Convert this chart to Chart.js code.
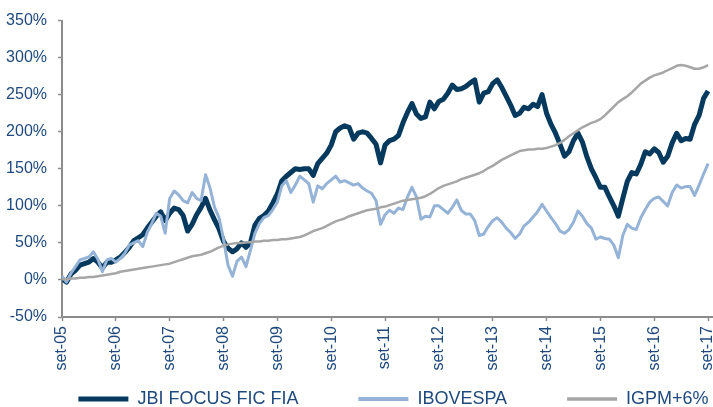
<!DOCTYPE html>
<html>
<head>
<meta charset="utf-8">
<script src="https://cdn.jsdelivr.net/npm/chart.js@4.4.1/dist/chart.umd.min.js"></script>
<style>
    body { margin: 0; background: #ffffff; }
    #wrap { width: 713px; height: 407px; overflow: hidden; }
</style>
</head>
<body>
<div id="wrap"><canvas id="perfChart" width="713" height="407"></canvas></div>
<script>
// x tick labels, one per September (index = months since set-05)
const yearTicks = ['set-05', 'set-06', 'set-07', 'set-08', 'set-09', 'set-10', 'set-11',
    'set-12', 'set-13', 'set-14', 'set-15', 'set-16', 'set-17'];

const seriesNames = ['JBI FOCUS FIC FIA', 'IBOVESPA', 'IGPM+6%'];

// accumulated return (%), monthly from set-05
const jbiFocus = [
    2, -3, 8, 13, 20, 22, 24, 29, 24, 16, 24, 24,
    27, 31, 37, 44, 53, 57, 61, 70, 78, 86, 92, 80,
    90, 97, 95, 87, 66, 75, 88, 98, 110, 94, 81, 69,
    52, 43, 38, 42, 50, 44, 50, 74, 83, 87, 93, 104,
    116, 134, 140, 145, 150, 149, 150, 150, 141, 157, 164, 171,
    182, 200, 205, 208, 206, 190, 198, 200, 198, 191, 183, 158,
    182, 188, 190, 195, 212, 226, 238, 224, 218, 220, 240, 231,
    241, 244, 252, 263, 257, 258, 261, 266, 270, 240, 252, 254,
    265, 270, 260, 248, 236, 222, 225, 233, 231, 237, 234, 250,
    225, 210, 198, 183, 167, 173, 188, 198, 186, 166, 150, 138,
    125, 125, 112, 100, 86, 110, 133, 145, 143, 156, 173, 170,
    177, 172, 159, 167, 185, 198, 188, 191, 190, 210, 222, 245,
    255
];

const ibovespa = [
    5, -3, 9, 18, 27, 29, 31, 38, 28, 11, 27, 29,
    24, 29, 36, 47, 50, 53, 45, 64, 76, 90, 86, 63,
    110, 120, 115, 107, 104, 118, 110, 107, 142, 124, 98, 84,
    55, 20, 5, 25, 31, 18, 40, 63, 76, 84, 87, 95,
    105, 127, 134, 118, 128, 140, 135, 130, 105, 127, 123, 130,
    135, 140, 132, 134, 131, 128, 130, 124, 120, 117, 107, 75,
    88, 94, 90, 97, 95, 112, 125, 112, 82, 86, 85, 100,
    100, 95, 90, 98, 108, 94, 89, 89, 80, 60, 62, 72,
    80, 84, 78, 70, 64, 56, 62, 73, 78, 85, 92, 102,
    93, 84, 76, 66, 63, 68, 78, 93, 86, 76, 70, 55,
    58, 56, 55, 47, 30, 60, 75, 70, 68, 84, 95, 105,
    110, 112, 106, 100, 118, 128, 124, 126, 126, 114, 128, 143,
    157
];

const igpm = [
    1, 1, 2, 2, 3, 3, 4, 4, 5, 6, 7, 8,
    9, 11, 12, 13, 14, 15, 16, 17, 18, 19, 20, 21,
    22, 24, 26, 28, 30, 32, 33, 34, 36, 38, 41, 44,
    46, 48, 49, 50, 50, 51, 51, 52, 52, 53, 53, 54,
    54, 55, 55, 56, 57, 58, 60, 63, 66, 68, 70, 73,
    76, 79, 81, 83, 86, 88, 90, 92, 94, 95, 96, 98,
    99, 101, 103, 105, 107, 108, 109, 110, 111, 113, 116, 120,
    124, 127, 129, 131, 133, 136, 138, 140, 142, 144, 147, 151,
    154, 158, 162, 165, 168, 171, 174, 175, 176, 176, 177, 177,
    178, 180, 182, 185, 189, 194, 198, 202, 206, 209, 212, 214,
    217, 222, 228, 234, 240, 244, 248, 253, 259, 265, 269, 273,
    276, 278, 280, 283, 286, 289, 290, 289, 287, 285, 285, 287,
    290
];

const toPoints = arr => arr.map((v, i) => ({ x: i, y: v }));

const textColor = "#1F497D";
const axisColor = "#8C8C8C";
const font = "Arial, 'Liberation Sans', sans-serif";

// negative right padding lets the legend spread its items wider
const PAD_LEFT = 17;
const PAD_RIGHT = -57;

const ctx = document.getElementById("perfChart").getContext("2d");

new Chart(ctx, {
    type: 'line',

    data: {
        datasets: [{
            label: seriesNames[0],
            data: toPoints(jbiFocus),
            borderColor: "#053A5E",
            borderWidth: 5,
            order: 3
        }, {
            label: seriesNames[1],
            data: toPoints(ibovespa),
            borderColor: "#95B3D7",
            borderWidth: 3,
            order: 2
        }, {
            label: seriesNames[2],
            data: toPoints(igpm),
            borderColor: "#A6A6A6",
            borderWidth: 2.5,
            order: 1
        }]
    },

    options: {
        responsive: false,
        animation: false,
        layout: {
            padding: { top: 18, left: PAD_LEFT, right: PAD_RIGHT, bottom: 0 }
        },
        elements: {
            point: { radius: 0 },
            line: { tension: 0, borderJoinStyle: 'round' }
        },

        plugins: {
            tooltip: { enabled: false },
            legend: {
                position: 'bottom',
                maxHeight: 77,
                labels: {
                    usePointStyle: true,
                    pointStyleWidth: 50,
                    padding: 60,
                    color: textColor,
                    font: { family: font, size: 18 },
                    generateLabels: (chart) => chart.data.datasets.map((ds, i) => ({
                        text: ds.label,
                        fillStyle: ds.borderColor,
                        strokeStyle: ds.borderColor,
                        lineWidth: i === 0 ? 5 : (i === 1 ? 4 : 3.5),
                        pointStyle: 'line',
                        fontColor: textColor,
                        hidden: false,
                        datasetIndex: i
                    }))
                }
            }
        },

        scales: {
            x: {
                type: 'linear',
                min: 0,
                max: 145.1,
                afterBuildTicks: (scale) => {
                    scale.ticks = yearTicks.map((t, i) => ({ value: i * 12 }));
                },
                afterFit: (scale) => {
                    scale.height = 13;
                    scale.paddingLeft = 0;
                    scale.paddingRight = 0;
                },
                ticks: {
                    autoSkip: false,
                    maxRotation: 90,
                    minRotation: 90,
                    padding: 5,
                    color: textColor,
                    font: { family: font, size: 16 },
                    callback: (v) => yearTicks[Math.round(v / 12)]
                },
                grid: {
                    drawOnChartArea: false,
                    drawTicks: true,
                    tickLength: 4,
                    tickWidth: 1.5,
                    tickColor: axisColor
                },
                border: { color: axisColor, width: 2 }
            },

            y: {
                min: -50,
                max: 350,
                afterFit: (scale) => {
                    scale.width = 62 - PAD_LEFT;
                },
                ticks: {
                    stepSize: 50,
                    padding: 11,
                    color: textColor,
                    font: { family: font, size: 16 },
                    callback: (v) => v + '%'
                },
                grid: {
                    drawOnChartArea: false,
                    drawTicks: true,
                    tickLength: 4,
                    tickWidth: 1.5,
                    tickColor: axisColor
                },
                border: { color: axisColor, width: 2 }
            }
        }
    },

    plugins: [{
        id: "labelRoom",

        // tick labels are clipped to their scale box; give them the whole edge
        afterLayout: (chart) => {
            chart.scales.x.bottom = chart.height;
            chart.scales.y.left = 0;
        }
    }]
});
</script>
</body>
</html>
